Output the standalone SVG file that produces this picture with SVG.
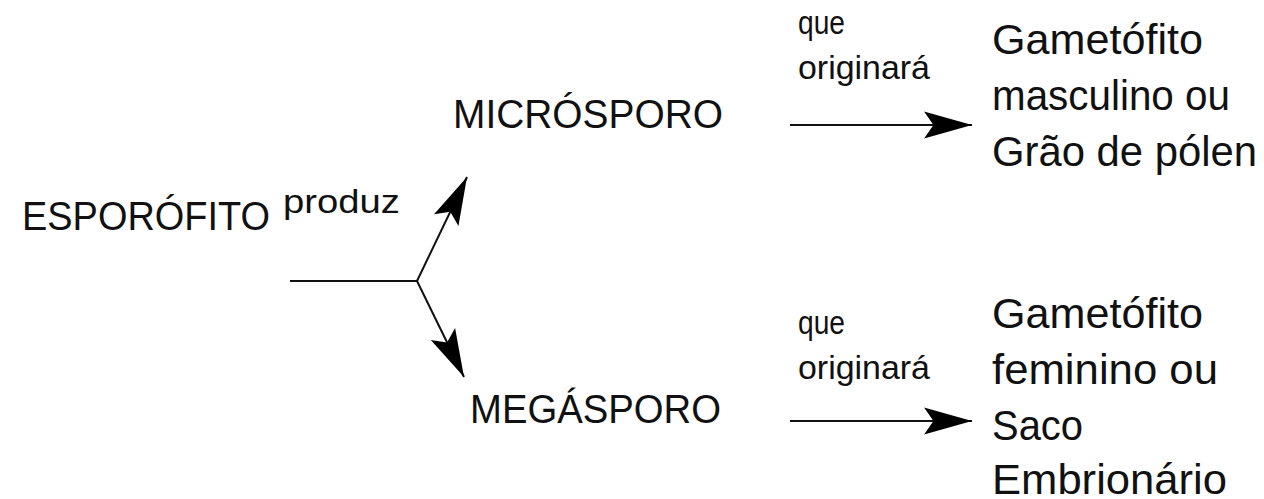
<svg xmlns="http://www.w3.org/2000/svg" width="1264" height="499" viewBox="0 0 1264 499">
  <style>
    text { font-family: "Liberation Sans", Arial, sans-serif; fill: #111; }
    .big { font-size: 40px; }
    .small { font-size: 33px; }
    .res { font-size: 43px; }
    .line { stroke: #111; stroke-width: 2; fill: none; }
  </style>
  <defs>
    <marker id="head" markerUnits="userSpaceOnUse" markerWidth="50" markerHeight="30" viewBox="-46 -14 48 28" refX="0" refY="0" orient="auto">
      <path d="M0,0 L-46,-13 L-37,0 L-46,13 Z" fill="#000"/>
    </marker>
  </defs>

  <rect width="1264" height="499" fill="#fff"/>

  <g id="connectors">
    <!-- branch from ESPORÓFITO -->
    <line class="line" x1="290" y1="281" x2="417" y2="281"/>
    <line class="line" x1="417" y1="281" x2="467" y2="177" marker-end="url(#head)"/>
    <line class="line" x1="417" y1="281" x2="464" y2="377" marker-end="url(#head)"/>
    <!-- "que originará" arrows -->
    <line class="line" x1="790" y1="125" x2="972" y2="125" marker-end="url(#head)"/>
    <line class="line" x1="790" y1="421" x2="972" y2="421" marker-end="url(#head)"/>
  </g>

  <g id="esporofito">
    <text class="big" x="22" y="230" textLength="248" lengthAdjust="spacingAndGlyphs">ESPORÓFITO</text>
  </g>
  <g id="produz-label">
    <text class="small" x="283" y="213" textLength="117" lengthAdjust="spacingAndGlyphs">produz</text>
  </g>

  <g id="microsporo">
    <text class="big" x="453" y="128" textLength="270" lengthAdjust="spacingAndGlyphs">MICRÓSPORO</text>
  </g>
  <g id="megasporo">
    <text class="big" x="470" y="423" textLength="251" lengthAdjust="spacingAndGlyphs">MEGÁSPORO</text>
  </g>

  <g id="label-top">
    <text class="small" x="798" y="34" textLength="47" lengthAdjust="spacingAndGlyphs">que</text>
    <text class="small" x="798" y="79" textLength="132" lengthAdjust="spacingAndGlyphs">originará</text>
  </g>
  <g id="label-bottom">
    <text class="small" x="798" y="334" textLength="47" lengthAdjust="spacingAndGlyphs">que</text>
    <text class="small" x="798" y="379" textLength="132" lengthAdjust="spacingAndGlyphs">originará</text>
  </g>

  <g id="gametofito-masculino">
    <text class="res" x="992" y="54" textLength="211" lengthAdjust="spacingAndGlyphs">Gametófito</text>
    <text class="res" x="992" y="110" textLength="238" lengthAdjust="spacingAndGlyphs">masculino ou</text>
    <text class="res" x="992" y="166" textLength="265" lengthAdjust="spacingAndGlyphs">Grão de pólen</text>
  </g>
  <g id="gametofito-feminino">
    <text class="res" x="992" y="328" textLength="211" lengthAdjust="spacingAndGlyphs">Gametófito</text>
    <text class="res" x="992" y="384" textLength="226" lengthAdjust="spacingAndGlyphs">feminino ou</text>
    <text class="res" x="992" y="440" textLength="91" lengthAdjust="spacingAndGlyphs">Saco</text>
    <text class="res" x="992" y="494" textLength="235" lengthAdjust="spacingAndGlyphs">Embrionário</text>
  </g>
</svg>
